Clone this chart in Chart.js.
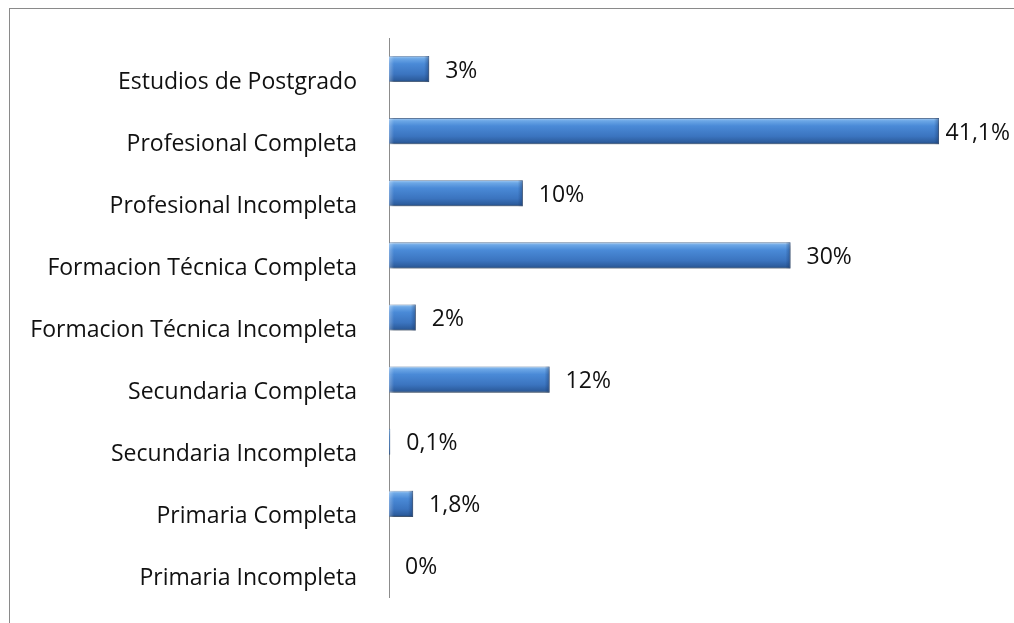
<!DOCTYPE html>
<html>
<head>
<meta charset="utf-8">
<script src="https://cdn.jsdelivr.net/npm/chart.js@4/dist/chart.umd.min.js"></script>
<style>
  html, body { margin: 0; padding: 0; background: #fff; }
  #wrap { position: relative; width: 1014px; height: 623px; }
  #frame { position: absolute; left: 9px; top: 8px; right: -2px; bottom: -2px; border-left: 1.5px solid #8a8a8a; border-top: 1.5px solid #8a8a8a; pointer-events: none; }
  canvas { position: absolute; left: 0; top: 0; }
</style>
</head>
<body>
<div id="wrap">
  <canvas id="c" width="1014" height="623"></canvas>
  <div id="frame"></div>
</div>
<script>
const categories = [
  "Estudios de Postgrado",
  "Profesional Completa",
  "Profesional Incompleta",
  "Formacion Técnica Completa",
  "Formacion Técnica Incompleta",
  "Secundaria Completa",
  "Secundaria Incompleta",
  "Primaria Completa",
  "Primaria Incompleta"
];
const values = [3, 41.1, 10, 30, 2, 12, 0.1, 1.8, 0];
const valueLabels = ["3%", "41,1%", "10%", "30%", "2%", "12%", "0,1%", "1,8%", "0%"];

const FONT = '"Open Sans", "DejaVu Sans", sans-serif';
const FONT_SIZE = 23;

function barGradient(c) {
  const chart = c.chart;
  const ys = chart.scales && chart.scales.y;
  if (!ys || c.dataIndex === undefined || !chart.chartArea) return '#4a85cf';
  const cy = ys.getPixelForValue(c.dataIndex);
  const h = 26;
  const g = chart.ctx.createLinearGradient(0, cy - h / 2, 0, cy + h / 2);
  g.addColorStop(0, '#a3cbf3');
  g.addColorStop(0.1, '#6ca7e6');
  g.addColorStop(0.3, '#4a8ad7');
  g.addColorStop(0.7, '#3b74bf');
  g.addColorStop(0.92, '#2d5d9e');
  g.addColorStop(1, '#1f4679');
  return g;
}

const shadowPlugin = {
  id: 'shadow',
  beforeDatasetsDraw(chart) {
    const ctx = chart.ctx;
    ctx.save();
    ctx.shadowColor = 'rgba(0,0,0,0.35)';
    ctx.shadowBlur = 4;
    ctx.shadowOffsetX = 2;
    ctx.shadowOffsetY = 3;
  },
  afterDatasetsDraw(chart) {
    chart.ctx.restore();
  }
};

const bevelPlugin = {
  id: 'bevel',
  afterDatasetsDraw(chart) {
    const ctx = chart.ctx;
    const meta = chart.getDatasetMeta(0);
    ctx.save();
    meta.data.forEach((el) => {
      const p = el.getProps(['x', 'y', 'base', 'height'], true);
      const w = p.x - p.base;
      if (w < 3) return;
      const top = p.y - p.height / 2;
      const b = Math.min(5, w / 3);
      const gr = ctx.createLinearGradient(p.x - b, 0, p.x, 0);
      gr.addColorStop(0, 'rgba(20,50,100,0)');
      gr.addColorStop(1, 'rgba(20,50,100,0.45)');
      ctx.fillStyle = gr;
      ctx.fillRect(p.x - b, top, b, p.height);
      const gl = ctx.createLinearGradient(p.base, 0, p.base + b, 0);
      gl.addColorStop(0, 'rgba(255,255,255,0.3)');
      gl.addColorStop(1, 'rgba(255,255,255,0)');
      ctx.fillStyle = gl;
      ctx.fillRect(p.base, top, b, p.height);
    });
    ctx.restore();
  }
};

const labelPlugin = {
  id: 'valueLabels',
  afterDraw(chart) {
    const ctx = chart.ctx;
    const meta = chart.getDatasetMeta(0);
    ctx.save();
    ctx.font = FONT_SIZE + 'px ' + FONT;
    ctx.fillStyle = '#111';
    ctx.textBaseline = 'middle';
    ctx.textAlign = 'left';
    meta.data.forEach((el, i) => {
      const p = el.getProps(['x', 'y'], true);
      const txt = valueLabels[i];
      const w = ctx.measureText(txt).width;
      let x = p.x + 16;
      if (x + w > chart.width - 4) x = chart.width - 4 - w;
      ctx.fillText(txt, x, p.y + 2);
    });
    ctx.restore();
  }
};

new Chart(document.getElementById('c'), {
  type: 'bar',
  data: {
    labels: categories,
    datasets: [{
      data: values,
      backgroundColor: barGradient,
      borderColor: 'rgba(30,70,120,0.7)',
      borderWidth: 0.8,
      categoryPercentage: 1,
      barPercentage: 0.42
    }]
  },
  options: {
    indexAxis: 'y',
    responsive: false,
    animation: false,
    devicePixelRatio: 1,
    layout: { padding: { top: 38, bottom: 26, left: 0, right: 9.4 } },
    plugins: { legend: { display: false }, tooltip: { enabled: false } },
    scales: {
      x: { display: false, min: 0, max: 46 },
      y: {
        afterFit(scale) { scale.width = 389; scale.paddingTop = 0; scale.paddingBottom = 0; },
        grid: { display: false, drawTicks: false },
        border: { display: true, color: '#8c8c8c', width: 1 },
        ticks: { color: '#111', padding: 32, labelOffset: 13, font: { family: FONT, size: FONT_SIZE } }
      }
    }
  },
  plugins: [shadowPlugin, bevelPlugin, labelPlugin]
});
</script>
</body>
</html>
